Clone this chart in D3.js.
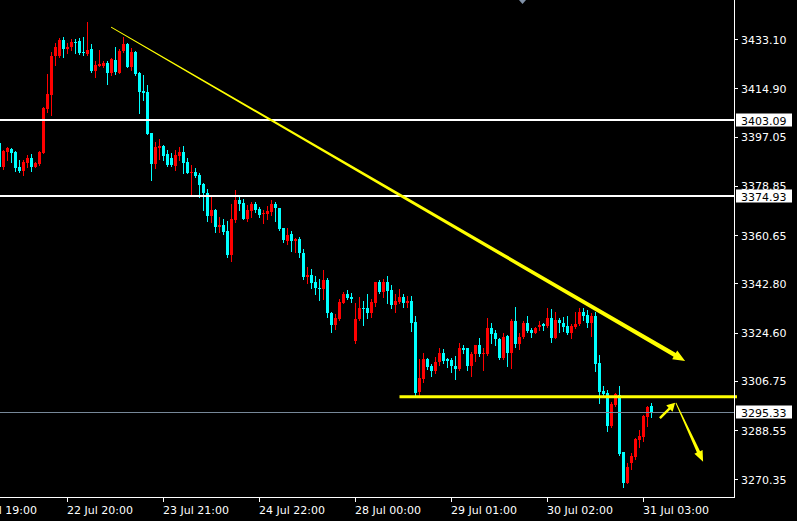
<!DOCTYPE html>
<html><head><meta charset="utf-8">
<script src="https://cdn.jsdelivr.net/npm/d3@7"></script>
<style>html,body{margin:0;padding:0;background:#000;overflow:hidden}</style>
</head><body><svg id="c" width="797" height="521"></svg>
<script>
// Hourly candles [open, high, low, close]
const candles = [
[3394.7,3395.8,3384.7,3385.8],
[3385.9,3392.1,3385.1,3391.7],[3391.5,3393.2,3388.4,3392.9],[3392.3,3392.8,3387.8,3391.1],[3391.3,3391.7,3384.4,3385.5],
[3385.9,3388.4,3384.0,3384.4],[3384.3,3388.4,3382.8,3387.5],[3387.4,3390.2,3385.9,3389.2],[3389.2,3390.6,3384.4,3385.9],
[3385.9,3387.8,3385.7,3387.2],[3386.9,3391.7,3386.5,3391.3],[3391.1,3407.9,3390.9,3407.5],[3407.1,3420.2,3406.2,3412.8],
[3412.4,3428.2,3405.0,3426.8],[3426.8,3431.5,3423.5,3430.3],[3426.8,3433.4,3426.6,3432.7],[3432.7,3433.7,3426.6,3429.4],
[3429.5,3431.5,3428.0,3430.3],[3430.0,3433.1,3429.0,3431.9],[3432.1,3433.0,3428.0,3431.5],[3432.5,3433.4,3427.5,3427.8],
[3428.4,3433.7,3427.2,3427.8],[3427.6,3439.5,3427.2,3429.0],[3429.4,3431.3,3421.0,3421.3],[3421.3,3425.1,3419.2,3423.5],
[3423.2,3429.0,3423.0,3423.9],[3423.2,3425.1,3422.9,3424.1],[3424.1,3425.1,3416.5,3420.7],[3420.7,3426.0,3419.8,3425.6],
[3425.3,3430.0,3420.1,3420.8],[3420.7,3429.3,3420.4,3428.7],[3428.7,3434.0,3428.3,3431.3],[3431.3,3431.7,3422.6,3422.9],
[3422.9,3429.7,3421.6,3428.4],[3428.4,3428.8,3419.8,3420.2],[3420.6,3421.0,3405.9,3413.6],[3414.0,3419.8,3410.6,3413.3],
[3413.6,3416.1,3397.9,3398.0],[3398.2,3398.5,3381.0,3386.9],[3386.9,3395.1,3385.3,3393.3],[3392.7,3396.1,3388.6,3393.7],
[3393.6,3393.9,3388.4,3389.9],[3390.5,3392.1,3386.2,3386.5],[3389.2,3390.9,3386.3,3386.5],[3386.3,3392.1,3384.7,3390.2],
[3389.9,3393.3,3388.4,3391.5],[3391.2,3393.6,3383.7,3387.4],[3387.8,3389.0,3383.5,3383.7],[3383.5,3386.5,3375.4,3384.1],
[3384.1,3385.3,3382.2,3382.6],[3382.8,3383.7,3374.8,3379.1],[3379.5,3380.0,3369.9,3376.1],[3376.1,3377.6,3365.8,3367.7],
[3367.7,3374.8,3365.6,3369.9],[3369.9,3370.2,3361.9,3363.7],[3363.7,3367.2,3361.9,3364.4],[3364.4,3366.5,3361.0,3361.9],
[3362.1,3365.8,3352.6,3353.3],[3353.3,3372.1,3351.2,3366.5],[3366.2,3377.3,3365.6,3373.6],[3373.6,3375.1,3369.9,3372.1],
[3372.6,3373.9,3366.5,3366.6],[3366.6,3371.7,3365.8,3369.9],[3369.6,3373.0,3367.2,3372.1],[3372.1,3373.0,3369.3,3369.9],
[3370.3,3371.1,3367.2,3368.1],[3368.7,3369.9,3365.0,3368.9],[3368.4,3371.4,3366.6,3369.5],[3369.3,3373.6,3368.1,3372.1],
[3372.1,3373.0,3365.8,3370.5],[3370.5,3370.8,3362.5,3362.9],[3363.1,3363.4,3358.2,3358.8],[3358.4,3363.1,3357.3,3360.7],
[3361.0,3362.1,3354.7,3358.4],[3358.4,3359.7,3354.5,3359.2],[3359.1,3360.0,3352.6,3353.9],[3354.1,3355.4,3344.4,3345.2],
[3345.2,3348.7,3343.0,3345.9],[3345.9,3348.1,3341.0,3342.8],[3343.4,3345.5,3338.7,3341.0],[3341.2,3344.4,3336.6,3340.7],
[3340.7,3347.7,3337.0,3344.0],[3344.0,3344.7,3330.5,3331.7],[3331.7,3332.3,3324.9,3327.4],[3327.4,3331.5,3325.9,3329.9],
[3329.5,3337.0,3329.3,3336.0],[3335.6,3339.5,3335.4,3338.7],[3338.7,3340.3,3336.9,3337.5],[3337.6,3339.1,3336.0,3337.0],
[3321.6,3335.6,3320.9,3329.6],[3329.5,3337.9,3329.2,3333.8],[3333.8,3336.3,3327.4,3333.3],[3333.8,3338.9,3329.9,3331.9],
[3331.9,3336.9,3330.5,3336.0],[3335.6,3343.4,3334.4,3343.4],[3343.4,3344.0,3339.2,3339.7],[3339.7,3344.4,3337.9,3343.4],
[3343.4,3345.5,3335.6,3340.1],[3340.3,3342.2,3333.8,3334.8],[3334.8,3338.9,3332.3,3336.3],[3336.0,3340.7,3335.4,3337.6],
[3337.6,3338.9,3334.2,3335.6],[3335.6,3338.1,3334.2,3336.3],[3336.3,3338.1,3325.3,3328.2],[3328.4,3330.7,3301.2,3302.3],
[3302.6,3314.7,3301.5,3307.7],[3307.3,3316.9,3306.4,3314.7],[3314.7,3315.1,3311.1,3312.0],[3312.2,3313.0,3308.5,3310.4],
[3310.4,3315.7,3309.8,3313.8],[3313.8,3318.8,3312.6,3317.2],[3317.2,3318.4,3313.5,3314.1],[3315.0,3315.2,3311.8,3314.1],
[3314.3,3315.1,3310.1,3312.2],[3312.4,3315.9,3307.4,3311.1],[3311.1,3320.9,3310.8,3318.8],[3318.8,3320.0,3317.0,3318.2],
[3318.8,3318.8,3310.8,3312.2],[3312.2,3317.5,3308.5,3316.7],[3316.7,3320.0,3314.1,3320.0],[3320.0,3322.5,3316.0,3316.7],
[3316.9,3318.8,3310.8,3317.2],[3316.7,3329.9,3316.3,3326.2],[3326.2,3328.0,3320.9,3324.0],[3324.5,3325.5,3320.0,3322.1],
[3322.1,3322.6,3314.8,3315.1],[3315.1,3324.3,3314.8,3323.1],[3323.3,3323.7,3312.2,3317.2],[3317.2,3329.6,3311.6,3328.9],
[3328.9,3333.9,3319.4,3320.3],[3320.3,3324.3,3318.5,3322.8],[3322.8,3328.9,3322.5,3328.2],[3328.2,3330.7,3324.9,3325.2],
[3325.5,3326.2,3323.1,3324.5],[3324.5,3326.5,3324.3,3326.2],[3326.8,3328.9,3325.5,3327.4],[3327.8,3328.2,3325.5,3327.0],
[3327.0,3333.8,3326.8,3330.1],[3330.1,3333.3,3321.2,3322.7],[3322.7,3332.1,3322.5,3329.2],[3329.2,3330.1,3324.9,3328.2],
[3328.2,3330.5,3325.2,3326.8],[3327.0,3330.7,3324.0,3324.5],[3324.5,3327.6,3322.7,3327.0],[3326.8,3332.3,3326.2,3327.8],
[3327.6,3333.6,3327.4,3332.3],[3332.3,3333.6,3329.2,3330.7],[3331.1,3332.9,3326.8,3328.0],[3328.0,3331.7,3323.4,3330.7],
[3330.7,3332.3,3310.4,3313.0],[3313.2,3316.3,3298.5,3302.7],[3303.0,3304.8,3300.7,3301.9],[3302.2,3303.4,3288.3,3290.2],
[3290.2,3299.0,3289.8,3298.2],[3297.8,3302.4,3297.5,3301.8],[3301.5,3304.8,3279.3,3279.7],[3280.3,3280.6,3267.6,3269.1],
[3269.1,3276.5,3268.9,3274.8],[3276.5,3280.0,3274.1,3279.0],[3278.7,3285.5,3277.8,3285.1],[3284.9,3288.6,3282.4,3286.4],
[3286.1,3294.1,3284.5,3293.8],[3293.5,3297.5,3290.2,3297.0],[3297.5,3298.5,3293.3,3295.33]
];
const timeLabels = ["21 Jul 19:00","22 Jul 20:00","23 Jul 21:00","24 Jul 22:00","28 Jul 00:00","29 Jul 01:00","30 Jul 02:00","31 Jul 03:00"];
const firstLabelBar = -7;     // bar position (in candles array) of first time label
const barsPerLabel = 24;
const priceTicks = [3433.10,3414.90,3397.05,3378.85,3360.65,3342.80,3324.60,3306.75,3288.55,3270.35];
const whiteLevels = [3403.09, 3374.93];
const lastPrice = 3295.33;
const support = {bar: 100, price: 3300.9};
// arrows in (bar, price) coordinates
const arrows = [
  {from:[27.9,3437.5], to:[171.4,3314.1], w0:1, w1:4.5, hl:12, hw:10},
  {from:[165.1,3293.0], to:[168.9,3298.6], w0:2.5, w1:2.5, hl:8, hw:9},
  {from:[169.1,3298.6], to:[175.9,3276.8], w0:1, w1:3.5, hl:11, hw:9}
];

const W = 797, H = 521, axisX = 734, axisY = 497;
const svg = d3.select("#c");
svg.append("rect").attr("width",W).attr("height",H).attr("fill","#000");

const x = d3.scaleLinear().domain([0,1]).range([-0.5,3.5]);
const y = d3.scaleLinear().domain([3270.35,3433.10]).range([479.3,39]);
const font = "DejaVu Sans, Verdana, sans-serif";

const plot = svg.append("g");
plot.append("clipPath").attr("id","clip").append("rect").attr("x",0).attr("y",0).attr("width",axisX).attr("height",axisY);
const g = plot.append("g").attr("clip-path","url(#clip)");

const col = d => d[3] >= d[0] ? "#ff0000" : "#00ffff";
g.selectAll("line.w").data(candles).join("line")
  .attr("x1",(d,i)=>x(i)).attr("x2",(d,i)=>x(i))
  .attr("y1",d=>Math.round(y(d[1]))).attr("y2",d=>Math.round(y(d[2]))+1)
  .attr("stroke",col).attr("stroke-width",1);
g.selectAll("rect.b").data(candles).join("rect")
  .attr("x",(d,i)=>x(i)-1.5).attr("width",3)
  .attr("y",d=>Math.round(y(Math.max(d[0],d[3]))))
  .attr("height",d=>Math.max(1,Math.round(y(Math.min(d[0],d[3])))-Math.round(y(Math.max(d[0],d[3])))))
  .attr("fill",col);

// horizontal levels
g.selectAll("line.lv").data(whiteLevels).join("line")
  .attr("x1",0).attr("x2",axisX).attr("y1",d=>Math.round(y(d))).attr("y2",d=>Math.round(y(d)))
  .attr("stroke","#fff").attr("stroke-width",2);
g.append("line").attr("x1",0).attr("x2",axisX).attr("y1",Math.round(y(lastPrice))+0.5).attr("y2",Math.round(y(lastPrice))+0.5)
  .attr("stroke","#778899").attr("stroke-width",1);

// support line (extends onto axis slightly)
svg.append("line").attr("x1",x(support.bar)).attr("x2",axisX+3)
  .attr("y1",y(support.price)).attr("y2",y(support.price))
  .attr("stroke","#ffff00").attr("stroke-width",3);

// arrows
function arrowPath(a){
  const p0=[x(a.from[0]),y(a.from[1])], p1=[x(a.to[0]),y(a.to[1])];
  const dx=p1[0]-p0[0], dy=p1[1]-p0[1], L=Math.hypot(dx,dy);
  const ux=dx/L, uy=dy/L, nx=-uy, ny=ux;
  const s=[p1[0]-ux*a.hl, p1[1]-uy*a.hl];
  const pts=[
    [p0[0]+nx*a.w0/2,p0[1]+ny*a.w0/2],
    [s[0]+nx*a.w1/2,s[1]+ny*a.w1/2],
    [s[0]+nx*a.hw/2,s[1]+ny*a.hw/2],
    p1,
    [s[0]-nx*a.hw/2,s[1]-ny*a.hw/2],
    [s[0]-nx*a.w1/2,s[1]-ny*a.w1/2],
    [p0[0]-nx*a.w0/2,p0[1]-ny*a.w0/2]
  ];
  return "M"+pts.map(p=>p.join(",")).join("L")+"Z";
}
svg.selectAll("path.ar").data(arrows).join("path").attr("d",arrowPath).attr("fill","#ffff00");

// shift marker
svg.append("path").attr("d","M519,0L526,0L522.5,4Z").attr("fill","#8091a8");

// axes
svg.append("line").attr("x1",axisX+0.5).attr("x2",axisX+0.5).attr("y1",0).attr("y2",axisY+1).attr("stroke","#fff");
svg.append("line").attr("x1",0).attr("x2",axisX+1).attr("y1",axisY+0.5).attr("y2",axisY+0.5).attr("stroke","#fff");

// price ticks
const pt = svg.append("g");
pt.selectAll("line").data(priceTicks).join("line")
  .attr("x1",axisX).attr("x2",axisX+4).attr("y1",d=>Math.round(y(d))+0.5).attr("y2",d=>Math.round(y(d))+0.5).attr("stroke","#fff");
pt.selectAll("text").data(priceTicks).join("text")
  .attr("x",741).attr("y",d=>y(d)+4.5).attr("fill","#fff")
  .attr("font-family",font).attr("font-size",11).text(d=>d.toFixed(2));

// price boxes
const boxes = whiteLevels.concat([lastPrice]);
const bx = svg.append("g");
bx.selectAll("rect").data(boxes).join("rect")
  .attr("x",736).attr("y",d=>Math.round(y(d))-6.5).attr("width",56).attr("height",13).attr("fill","#fff");
bx.selectAll("text").data(boxes).join("text")
  .attr("x",741).attr("y",d=>Math.round(y(d))+4.5).attr("fill","#000")
  .attr("font-family",font).attr("font-size",11).text(d=>d.toFixed(2));

// time ticks
const tt = svg.append("g");
const tIdx = timeLabels.map((t,k)=>firstLabelBar+barsPerLabel*k);
tt.selectAll("line").data(tIdx).join("line")
  .attr("x1",d=>x(d)).attr("x2",d=>x(d)).attr("y1",axisY).attr("y2",axisY+5).attr("stroke","#fff");
tt.selectAll("text").data(timeLabels).join("text")
  .attr("x",(d,k)=>x(tIdx[k])-0.5).attr("y",514).attr("fill","#fff")
  .attr("font-family",font).attr("font-size",11).text(d=>d);
</script>
</body></html>
